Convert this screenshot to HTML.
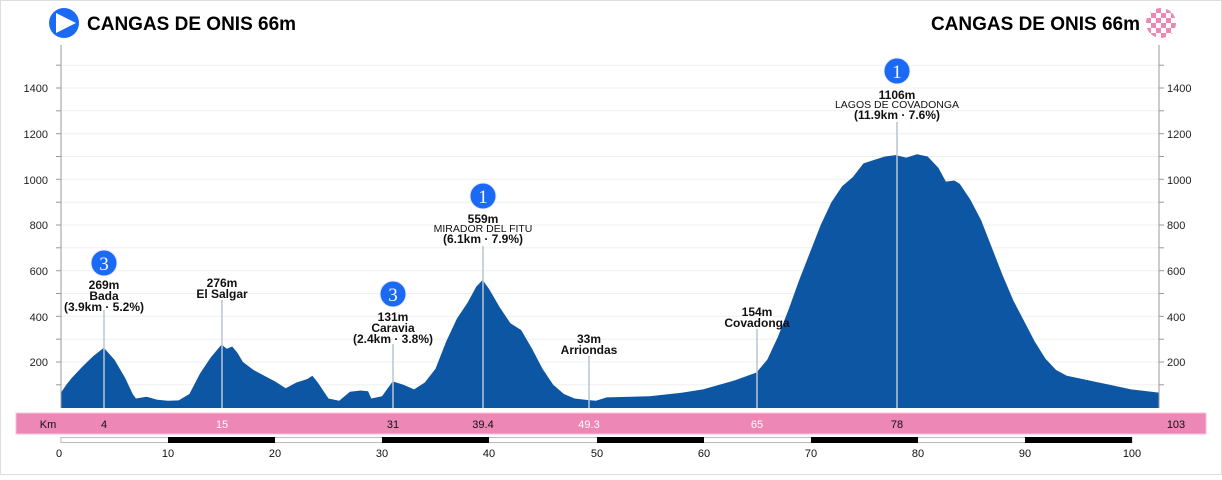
<!DOCTYPE html>
<html><head><meta charset="utf-8"><style>
html,body{margin:0;padding:0;background:#fff;}
body{width:1222px;height:475px;overflow:hidden;position:relative;font-family:"Liberation Sans",sans-serif;}
svg text{font-family:"Liberation Sans",sans-serif;}
</style></head><body>
<svg id="s" width="1222" height="475" xmlns="http://www.w3.org/2000/svg">
<rect x="0.5" y="0.5" width="1221" height="474" fill="#fff" stroke="#ddd"/>
<g id="grid"></g>
<path id="prof" fill="#0d56a4" d=""/>
<line x1="61" y1="45" x2="61" y2="408" stroke="#999" stroke-width="1"/>
<line x1="1159" y1="45" x2="1159" y2="408" stroke="#999" stroke-width="1"/>
<g id="ticks" stroke="#999"></g>
<g font-size="11" fill="#222">
<text x="48" y="92" text-anchor="end">1400</text><text x="48" y="138" text-anchor="end">1200</text><text x="48" y="184" text-anchor="end">1000</text><text x="48" y="229" text-anchor="end">800</text><text x="48" y="275" text-anchor="end">600</text><text x="48" y="321" text-anchor="end">400</text><text x="48" y="366" text-anchor="end">200</text>
<text x="1167" y="92">1400</text><text x="1167" y="138">1200</text><text x="1167" y="184">1000</text><text x="1167" y="229">800</text><text x="1167" y="275">600</text><text x="1167" y="321">400</text><text x="1167" y="366">200</text>
</g>
<!-- marker lines -->
<g stroke="#b8c4d4" stroke-width="1.5">
<line x1="104" y1="310" x2="104" y2="408"/><line x1="222" y1="300" x2="222" y2="408"/><line x1="393" y1="344" x2="393" y2="408"/><line x1="483" y1="246" x2="483" y2="408"/><line x1="589" y1="356" x2="589" y2="408"/><line x1="757" y1="329" x2="757" y2="408"/><line x1="897" y1="122" x2="897" y2="408"/>
</g>
<g font-size="12" font-weight="bold" fill="#111" text-anchor="middle">
<text x="104" y="289">269m</text><text x="104" y="300">Bada</text><text x="104" y="311">(3.9km · 5.2%)</text>
<text x="222" y="287">276m</text><text x="222" y="298">El Salgar</text>
<text x="393" y="321">131m</text><text x="393" y="332">Caravia</text><text x="393" y="343">(2.4km · 3.8%)</text>
<text x="483" y="223">559m</text><text x="483" y="232" font-weight="normal" font-size="10.5">MIRADOR DEL FITU</text><text x="483" y="243">(6.1km · 7.9%)</text>
<text x="589" y="343">33m</text><text x="589" y="354">Arriondas</text>
<text x="757" y="316">154m</text><text x="757" y="327">Covadonga</text>
<text x="897" y="99">1106m</text><text x="897" y="108" font-weight="normal" font-size="10.5">LAGOS DE COVADONGA</text><text x="897" y="119">(11.9km · 7.6%)</text>
</g>
<g fill="#1a6af5" stroke="#e6e6ff" stroke-width="1">
<circle cx="104" cy="263" r="13"/><circle cx="393" cy="294" r="13"/><circle cx="483" cy="196" r="13"/><circle cx="897" cy="71" r="13"/>
</g>
<g fill="#fff" font-family="Liberation Serif" font-size="19" text-anchor="middle" style="font-family:'Liberation Serif',serif">
<text x="104" y="270" style="font-family:'Liberation Serif',serif">3</text><text x="393" y="301" style="font-family:'Liberation Serif',serif">3</text><text x="483" y="203" style="font-family:'Liberation Serif',serif">1</text><text x="897" y="78" style="font-family:'Liberation Serif',serif">1</text>
</g>
<!-- header -->
<circle cx="64" cy="23" r="15" fill="#1a6af5"/>
<polygon points="56,13 76,23 56,33" fill="#fff"/>
<text x="87" y="30" font-size="19" font-weight="bold" fill="#000">CANGAS DE ONIS 66m</text>
<text x="1140" y="30" font-size="19" font-weight="bold" fill="#000" text-anchor="end">CANGAS DE ONIS 66m</text>
<clipPath id="cc"><circle cx="1161" cy="23" r="15"/></clipPath>
<g clip-path="url(#cc)" id="chk"></g>
<!-- km bar -->
<rect x="16" y="413" width="1190" height="21" fill="#ec87b6" stroke="#f5c3da"/>
<g font-size="11" text-anchor="middle" fill="#111">
<text x="48" y="428">Km</text><text x="104" y="428">4</text><text x="222" y="428" fill="#fff">15</text><text x="393" y="428">31</text><text x="483" y="428">39.4</text><text x="589" y="428" fill="#fff">49.3</text><text x="757" y="428" fill="#fff">65</text><text x="897" y="428">78</text><text x="1176" y="428">103</text>
</g>
<rect x="61" y="437.5" width="1071" height="5" fill="#fff" stroke="#bbb"/>
<g fill="#000"><rect x="168" y="437" width="107" height="6"/><rect x="382" y="437" width="107" height="6"/><rect x="597" y="437" width="107" height="6"/><rect x="811" y="437" width="107" height="6"/><rect x="1025" y="437" width="107" height="6"/></g>
<g font-size="11" text-anchor="middle" fill="#111">
<text x="59" y="457">0</text><text x="168" y="457">10</text><text x="275" y="457">20</text><text x="382" y="457">30</text><text x="489" y="457">40</text><text x="597" y="457">50</text><text x="704" y="457">60</text><text x="811" y="457">70</text><text x="918" y="457">80</text><text x="1025" y="457">90</text><text x="1132" y="457">100</text>
</g>
</svg>
<script>
var d=[[0,66],[0.5,100],[1,130],[2,180],[3,225],[4,262],[5,210],[6,130],[6.7,60],[7,40],[8,48],[9,35],[10,30],[11,32],[12,60],[13,150],[14,220],[15,276],[15.5,258],[16,268],[16.5,240],[17,200],[18,165],[19,140],[20,115],[21,85],[22,110],[23,125],[23.5,140],[24,110],[25,40],[26,30],[27,70],[28,75],[28.7,72],[29,40],[30,50],[31,115],[32,100],[33,80],[34,110],[35,170],[36,290],[37,390],[38,460],[38.8,530],[39.4,559],[40,520],[41,440],[42,370],[43,340],[44,260],[45,170],[46,100],[47,60],[48,40],[49.3,33],[50,30],[51,45],[55,50],[58,65],[60,80],[63,120],[65,154],[66,210],[67,310],[68,430],[69,560],[70,680],[71,800],[72,900],[73,970],[74,1010],[75,1070],[76,1085],[77,1100],[78,1106],[79,1095],[80,1110],[81,1100],[82,1050],[82.7,990],[83.5,995],[84,980],[85,910],[86,820],[87,700],[88,580],[89,470],[90,380],[91,290],[92,215],[93,165],[94,140],[96,120],[98,100],[100,80],[102.6,66]];
function X(k){return Math.min(1159,61+k*10.7)}function Y(e){return 362-(e-200)*0.22833}
var p="M61,408";d.forEach(function(a){p+="L"+X(a[0]).toFixed(1)+","+Y(a[1]).toFixed(1)});p+="L1159,408Z";
document.getElementById("prof").setAttribute("d",p);
var g="",t="";for(var e=100;e<=1500;e+=100){var y=Y(e).toFixed(1);g+='<line x1="61" x2="1159" y1="'+y+'" y2="'+y+'" stroke="#f0f0f0"/>';t+='<line x1="56" x2="61" y1="'+y+'" y2="'+y+'"/><line x1="1159" x2="1164" y1="'+y+'" y2="'+y+'"/>';}
document.getElementById("grid").innerHTML=g;document.getElementById("ticks").innerHTML=t;
var c="";for(var i=0;i<6;i++)for(var j=0;j<6;j++)c+='<rect x="'+(1146+i*5)+'" y="'+(8+j*5)+'" width="5" height="5" fill="'+((i+j)%2?'#fff':'#ec87b6')+'"/>';
document.getElementById("chk").innerHTML=c;
</script>
</body></html>
